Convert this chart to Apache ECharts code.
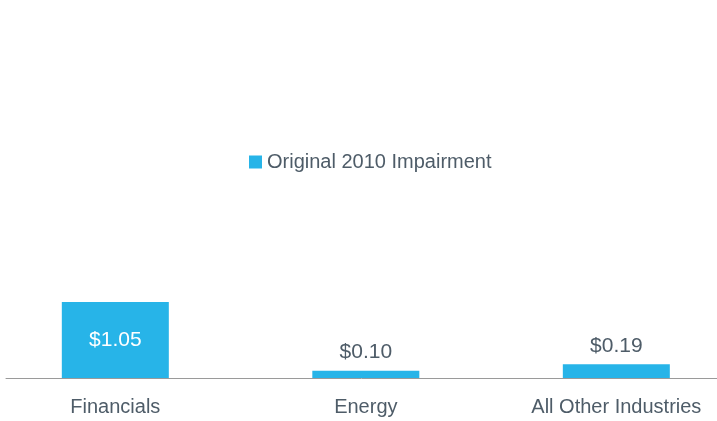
<!DOCTYPE html>
<html>
<head>
<meta charset="utf-8">
<script src="https://cdn.jsdelivr.net/npm/echarts@6/dist/echarts.min.js"></script>
<style>
    html, body { margin: 0; padding: 0; background: #fff; }
    #chart { width: 717px; height: 421px; }
</style>
</head>
<body>
<div id="chart"></div>
<script>
// 类目、数值
let categories = ['Financials', 'Energy', 'All Other Industries'];
let impairment = [1.05, 0.10, 0.19];
let seriesName = 'Original 2010 Impairment';

let textColor = '#4e5c68';
let barColor = '#27b4e8';

let myChart = echarts.init(document.getElementById('chart'));
let option = {
    animation: false,
    textStyle: {
        fontFamily: 'Liberation Sans'
    },
    legend: {
        left: 244,
        top: 147,
        itemWidth: 13,
        itemHeight: 13,
        itemGap: 8,
        icon: 'rect',
        textStyle: {
            color: textColor,
            fontSize: 20,
            fontFamily: 'Liberation Sans'
        },
        data: [seriesName]
    },
    grid: {left: 6, right: 0, top: 88, bottom: 43},
    // 用数值轴摆放类目，让柱子位置可以微调
    xAxis: {
        type: 'value',
        min: -0.4364,
        max: 2.4019,
        splitLine: {show: false},
        axisTick: {show: false},
        axisLine: {show: true, onZero: false, lineStyle: {color: '#9a9a9a', width: 1}},
        axisLabel: {
            color: textColor,
            fontSize: 20,
            margin: 19,
            customValues: categories.map(function (c, i) { return i; }),
            formatter: function (v) {
                return categories[Math.round(v)];
            }
        }
    },
    yAxis: {type: 'value', min: 0, max: 4, show: false},
    series: [
        {
            name: seriesName,
            type: 'bar',
            barWidth: 107,
            itemStyle: {color: barColor},
            label: {
                show: true,
                position: 'top',
                distance: 8,
                color: textColor,
                fontSize: 21,
                formatter: function (p) {
                    return '$' + p.value[1].toFixed(2);
                }
            },
            data: impairment.map(function (v, i) {
                if (i === 0) {
                    return {
                        value: [i, v],
                        label: {position: 'inside', color: '#ffffff'}
                    };
                }
                return [i, v];
            })
        }
    ]
};
myChart.setOption(option);
</script>
</body>
</html>
